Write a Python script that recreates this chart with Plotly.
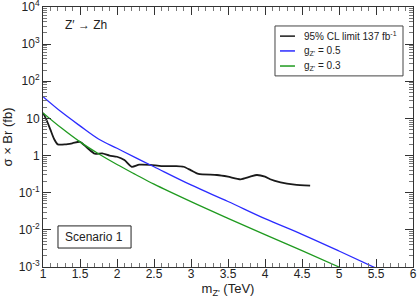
import numpy as np
import plotly.graph_objects as go

# Data
limit_m = [1.0, 1.05, 1.1, 1.15, 1.2, 1.3, 1.4, 1.5, 1.6, 1.7, 1.8, 1.9, 2.0, 2.1, 2.2, 2.3,
           2.45, 2.6, 2.8, 2.9, 3.0, 3.1, 3.35, 3.5, 3.67, 3.8, 3.89, 4.0, 4.07, 4.21, 4.4, 4.61]
limit_sigma = [14.1, 8.9, 5.0, 2.8, 2.0, 2.0, 2.15, 2.35, 1.6, 1.12, 1.15, 1.0, 0.93, 0.76, 0.50, 0.57,
               0.56, 0.52, 0.52, 0.50, 0.40, 0.32, 0.30, 0.27, 0.23, 0.27, 0.30, 0.27, 0.23, 0.19, 0.165, 0.155]

g05_m = [1.0, 1.25, 1.5, 1.75, 2.0, 2.25, 2.5, 3.0, 3.5, 4.0, 4.5, 5.0, 5.5]
g05_sigma = [38.5, 14.8, 6.3, 2.8, 1.57, 0.88, 0.50, 0.162, 0.058, 0.020, 0.0076, 0.0027, 0.00093]

g03_m = [1.0, 1.25, 1.5, 1.75, 2.0, 2.25, 2.5, 3.0, 3.5, 4.0, 4.5, 5.0]
g03_sigma = [14.1, 5.5, 2.34, 1.12, 0.575, 0.31, 0.17, 0.0575, 0.0204, 0.0074, 0.00275, 0.001]

series_names = ["95% CL limit 137 fb<sup>-1</sup>", "g<sub>Z'</sub> = 0.5", "g<sub>Z'</sub> = 0.3"]
series_colors = ["#1a1a1a", "#2b2bff", "#1f9a1f"]

x_ticks = [1, 1.5, 2, 2.5, 3, 3.5, 4, 4.5, 5, 5.5, 6]
x_ticklabels = ["1", "1.5", "2", "2.5", "3", "3.5", "4", "4.5", "5", "5.5", "6"]
y_ticks = [1e-3, 1e-2, 1e-1, 1, 10, 1e2, 1e3, 1e4]
y_ticklabels = ["10<sup>-3</sup>", "10<sup>-2</sup>", "10<sup>-1</sup>", "1", "10",
                "10<sup>2</sup>", "10<sup>3</sup>", "10<sup>4</sup>"]

FONT = "Liberation Sans, Arial, sans-serif"
AX = "#333333"

fig = go.Figure()
fig.add_trace(go.Scatter(x=limit_m, y=limit_sigma, mode="lines",
                         line=dict(color=series_colors[0], width=1.8, shape="spline", smoothing=0.6),
                         name=series_names[0]))
fig.add_trace(go.Scatter(x=g05_m, y=g05_sigma, mode="lines",
                         line=dict(color=series_colors[1], width=1.3, shape="spline"),
                         name=series_names[1]))
fig.add_trace(go.Scatter(x=g03_m, y=g03_sigma, mode="lines",
                         line=dict(color=series_colors[2], width=1.3, shape="spline"),
                         name=series_names[2]))

minor_x = [round(1 + 0.1 * i, 2) for i in range(51)]
minor_y = [k * 10.0 ** e for e in range(-3, 4) for k in range(2, 10)]

fig.update_xaxes(range=[1, 6], tickvals=x_ticks, ticktext=x_ticklabels, ticks="inside", ticklen=8,
                 tickwidth=1, tickcolor=AX, showline=True, linecolor=AX, linewidth=1, mirror="ticks",
                 showgrid=False, zeroline=False, tickfont=dict(size=12, color="#222"),
                 ticklabelstandoff=-4, ticklabeloverflow="allow",
                 minor=dict(tickvals=minor_x, ticks="inside", ticklen=4, tickcolor="#777", showgrid=False),
                 title=dict(text="m<sub>Z'</sub> (TeV)", font=dict(size=13, color="#222"), standoff=0))
fig.update_yaxes(type="log", range=[-3.0002, 4.0002], tickvals=y_ticks, ticktext=y_ticklabels, ticks="inside", ticklen=8,
                 tickwidth=1, tickcolor=AX, showline=True, linecolor=AX, linewidth=1, mirror="ticks",
                 showgrid=False, zeroline=False, tickfont=dict(size=12, color="#222"),
                 ticklabeloverflow="allow",
                 minor=dict(tickvals=minor_y, ticks="inside", ticklen=4, tickcolor="#777", showgrid=False),
                 title=dict(text="σ × Br (fb)", font=dict(size=13, color="#222"), standoff=4))

fig.add_annotation(x=0.055, y=0.93, xref="paper", yref="paper", text="Z′ → Zh", showarrow=False,
                   xanchor="left", yanchor="middle", font=dict(family=FONT, size=12, color="#222"))

# Scenario box
fig.add_shape(type="rect", xref="paper", yref="paper", x0=0.0405, x1=0.238, y0=0.073, y1=0.158,
              line=dict(color="#222", width=1), fillcolor="white", layer="above")
fig.add_annotation(x=0.139, y=0.115, xref="paper", yref="paper", text="Scenario 1", showarrow=False,
                   xanchor="center", yanchor="middle", font=dict(family=FONT, size=12, color="#222"))

# Manual legend
fig.add_shape(type="rect", xref="paper", yref="paper", x0=0.627, x1=0.973, y0=0.735, y1=0.927,
              line=dict(color="#444", width=1), fillcolor="white", layer="above")
legend_rows = [0.888, 0.831, 0.773]
for name, color, yr in zip(series_names, series_colors, legend_rows):
    fig.add_shape(type="line", xref="paper", yref="paper", x0=0.6405, x1=0.681, y0=yr, y1=yr,
                  line=dict(color=color, width=1.5), layer="above")
    fig.add_annotation(x=0.70, y=yr, xref="paper", yref="paper", text=name, showarrow=False,
                       xanchor="left", yanchor="middle", font=dict(family=FONT, size=10, color="#222"))

fig.update_layout(
    width=417, height=300,
    margin=dict(l=43, r=4, t=7, b=33, autoexpand=False),
    plot_bgcolor="white", paper_bgcolor="white",
    font=dict(family=FONT, color="#222"),
    showlegend=False,
)

fig.write_html("out.html", config={"displayModeBar": False},
               post_script="document.body.style.margin='0px';document.body.style.overflow='hidden';")
